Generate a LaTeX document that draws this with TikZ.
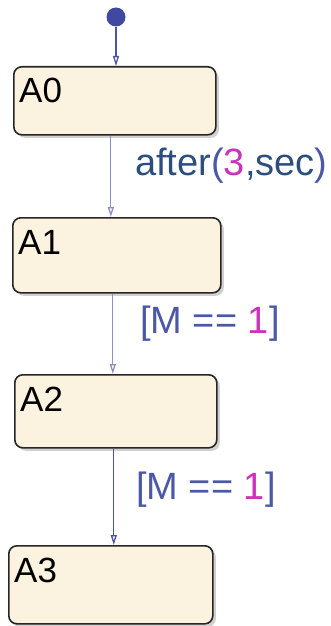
\documentclass[tikz,border=0pt]{standalone}
\usepackage{fontspec}
\setmainfont{Liberation Sans}
\usetikzlibrary{arrows.meta,shadows}
\definecolor{statefill}{HTML}{FCF2E0}
\definecolor{labblue}{HTML}{2C4E7E}
\definecolor{guardblue}{HTML}{4B58A6}
\definecolor{magen}{HTML}{CC33BB}
\definecolor{wirelight}{HTML}{8C90C4}
\definecolor{wiredark}{HTML}{4A55A6}
\definecolor{dotblue}{HTML}{4048A0}
\tikzset{
  statebox/.style={draw=black!85, line width=1.6pt, fill=statefill, rounded corners=8pt,
    drop shadow={shadow xshift=3pt, shadow yshift=-3pt, fill=black!30, opacity=0.6},
    anchor=north west, inner sep=0pt},
  statename/.style={anchor=base west, inner sep=0pt, font=\fontsize{35}{40}\selectfont},
  translabel/.style={anchor=base west, inner sep=0pt, font=\fontsize{38}{44}\selectfont},
  wire/.style={line width=1.3pt, -{Triangle[open, length=10pt, width=6pt]}},
}
\begin{document}
\begin{tikzpicture}[x=1pt,y=-1pt]
\useasboundingbox (0,0) rectangle (330,626);
\node[statebox, minimum width=202pt, minimum height=68pt] (A0) at (13,66) {};
\node[statebox, minimum width=208pt, minimum height=75pt] (A1) at (12,217) {};
\node[statebox, minimum width=202pt, minimum height=73pt] (A2) at (14,374) {};
\node[statebox, minimum width=204pt, minimum height=78pt] (A3) at (8,545) {};
\node[statename] (n0) at (19,102) {A0};
\node[statename] (n1) at (18,254) {A1};
\node[statename] (n2) at (20,411) {A2};
\node[statename] (n3) at (14,582) {A3};
\node[circle, fill=dotblue, minimum size=19pt, inner sep=0pt] (init) at (116,17) {};
\draw[wire, wiredark] (init) -- (init |- A0.north);
\draw[wire, wirelight] ([xshift=-4pt]A0.south) -- ([xshift=-6pt]A1.north);
\draw[wire, wirelight] ([xshift=-4pt]A1.south) -- ([xshift=-3pt]A2.north);
\draw[wire, wiredark] ([xshift=-2pt]A2.south) -- ([xshift=3pt]A3.north);
\node[translabel] (l0) at (135,175) {\textcolor{labblue}{after}\textcolor{guardblue}{(}\textcolor{magen}{3}\textcolor{labblue}{,sec}\textcolor{guardblue}{)}};
\node[translabel] (l1) at (140,333) {\textcolor{guardblue}{[M == }\textcolor{magen}{1}\textcolor{guardblue}{]}};
\node[translabel] (l2) at (136,499) {\textcolor{guardblue}{[M == }\textcolor{magen}{1}\textcolor{guardblue}{]}};
\end{tikzpicture}
\end{document}
